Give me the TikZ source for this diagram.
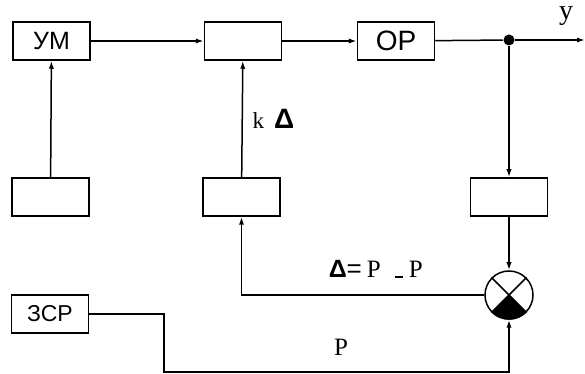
\documentclass[tikz,border=0pt]{standalone}
\usepackage{fontspec}
\setmainfont{Liberation Serif}
\setsansfont{Liberation Sans}
\usetikzlibrary{arrows.meta}

\begin{document}
\begin{tikzpicture}[x=0.5pt, y=-0.5pt, line width=0.75pt,
  blok/.style={draw, minimum width=38.5pt, minimum height=19pt, inner sep=0pt, font=\sffamily\fontsize{12.5}{14}\selectfont},
  arr/.style={-{Latex[length=4pt, width=2.6pt]}},
  lbl/.style={inner sep=0pt, font=\fontsize{12.5}{14}\selectfont}]
  \useasboundingbox (0,0) rectangle (585,374);
  % blocks
  \node[blok] (um) at (51.5,41) {УМ};
  \node[blok] (reg) at (243,41) {};
  \node[blok, font=\sffamily\fontsize{14}{16}\selectfont] (op) at (396,41) {ОР};
  \node[blok] (dat) at (50.5,197) {};
  \node[blok] (kor) at (241.5,197) {};
  \node[blok] (izm) at (509,197) {};
  \node[blok, font=\sffamily\fontsize{11.5}{13}\selectfont] (zsr) at (50,314) {ЗСР};
  \node[circle, draw, minimum size=24pt, inner sep=0pt] (summ) at (509,295) {};
  \node[circle, fill, inner sep=0pt, minimum size=5.5pt] (dot) at (509,40) {};
  \coordinate (out) at (585,40);
  \coordinate (bend) at (164,372);
  % comparator
  \fill (summ.center) \foreach \a in {-45,-50,...,-135} {-- (summ.\a)} -- cycle;
  \draw (summ.45) -- (summ.-135) (summ.135) -- (summ.-45);
  % connectors
  \draw[arr] (um) -- (reg);
  \draw[arr] (reg) -- (op);
  \draw (op) -- (dot);
  \draw[arr] (dot) -- (out);
  \draw[arr] (dat) -- (um);
  \draw[arr] (kor) -- (reg);
  \draw[arr] (dot) -- (izm);
  \draw[arr] (izm) -- (summ);
  \draw[arr] (summ.west) -| (kor.south);
  \draw[arr] (zsr.east) -| (bend) -| (summ.south);
  % labels
  \node[lbl, font=\fontsize{14}{16}\selectfont] (ylbl) at (566,16) {y};
  \node[lbl, anchor=base west, font=\fontsize{11.5}{14}\selectfont] (kd) at (252,129) {k\hspace{5pt}{\sffamily\bfseries\fontsize{14}{16}\selectfont Δ}};
  \node[lbl, anchor=base west] (eq) at (328,278) {{\sffamily\bfseries\fontsize{12.5}{14}\selectfont Δ}{\sffamily\fontsize{13}{14}\selectfont=}\hspace{2.5pt}P\hspace{7pt}\rule{4pt}{1pt}\hspace{3pt}P};
  \node[lbl] (plbl) at (341,347) {P};
\end{tikzpicture}
\end{document}
